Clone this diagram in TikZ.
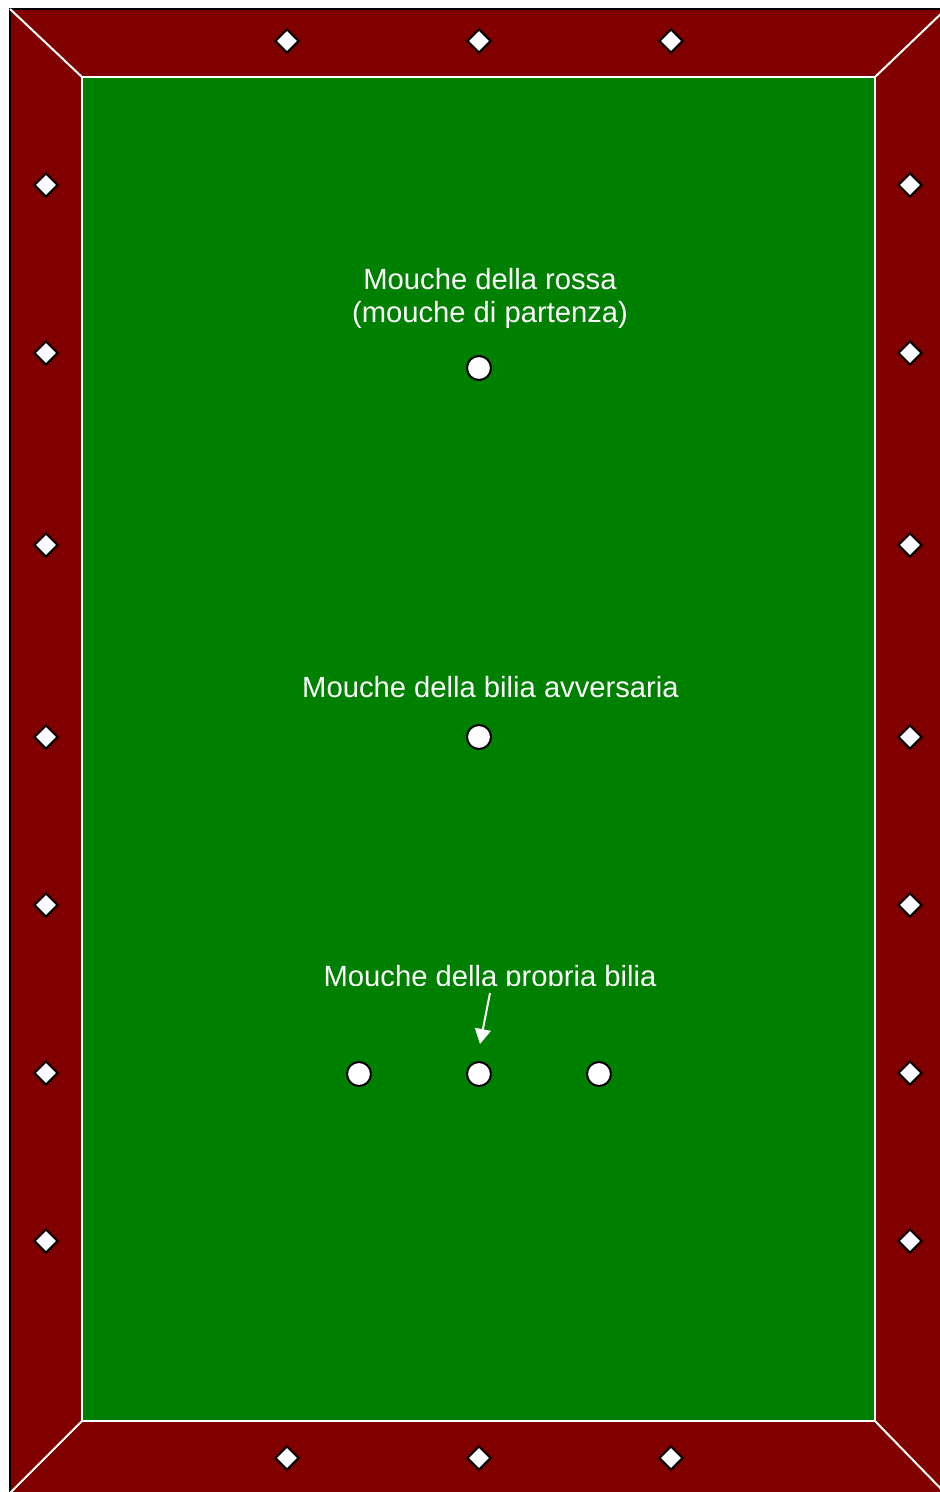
\documentclass[tikz,border=0pt]{standalone}
\usepackage{fontspec}
\setmainfont{Liberation Sans}
\usetikzlibrary{shapes.geometric,arrows.meta}
\definecolor{rail}{HTML}{800000}
\definecolor{felt}{HTML}{008000}
\begin{document}
\begin{tikzpicture}[x=1pt,y=-1pt,
  sight/.style={diamond,draw=black,fill=white,line width=2pt,inner sep=0pt,minimum width=24pt,minimum height=24pt,aspect=1},
  spot/.style={circle,draw=black,fill=white,line width=2pt,inner sep=0pt,minimum size=24pt},
  lbl/.style={text=white,font=\fontsize{29.2}{33}\selectfont,align=center,inner sep=0pt,anchor=base},
  seam/.style={draw=white,line width=2pt}]
\useasboundingbox (0,0) rectangle (940,1492);
\begin{scope}
\clip (0,0) rectangle (940,1492);
\fill[white] (0,0) rectangle (940,1492);
\draw[fill=rail,draw=black,line width=2pt] (10,9) rectangle (952,1500);
\draw[seam,fill=felt] (82,77) rectangle (875,1421);
\draw[seam] (10,9) -- (82,77);
\draw[seam] (946,9) -- (875,77);
\draw[seam] (10,1493) -- (82,1421);
\draw[seam] (946,1494) -- (875,1421);
\end{scope}
% diamonds top & bottom
\foreach \x [count=\i] in {287,479,671}{
  \node[sight] (t\i) at (\x,41) {};
  \node[sight] (b\i) at (\x,1458) {};
}
\foreach \y [count=\i] in {185,353,545,737,905,1073,1241}{
  \node[sight] (l\i) at (46,\y) {};
  \node[sight] (r\i) at (910,\y) {};
}
% spots
\node[spot] (red) at (479,368) {};
\node[spot] (opp) at (479,737) {};
\node[spot] (ownL) at (359,1074) {};
\node[spot] (own) at (479,1074) {};
\node[spot] (ownR) at (599,1074) {};
% labels
\node[lbl] (tred) at (490,322) {Mouche della rossa\\(mouche di partenza)};
\node[lbl] (topp) at (490.5,697) {Mouche della bilia avversaria};
\begin{scope}
\clip (300,940) rectangle (680,985);
\node[lbl] (town) at (490,986) {Mouche della propria bilia};
\end{scope}
\coordinate (arrS) at (490,993);
\coordinate (arrE) at (480,1044);
\draw[white,line width=2pt,-{Triangle[length=15pt,width=16pt]}] (arrS) -- (arrE);
\end{tikzpicture}
\end{document}
